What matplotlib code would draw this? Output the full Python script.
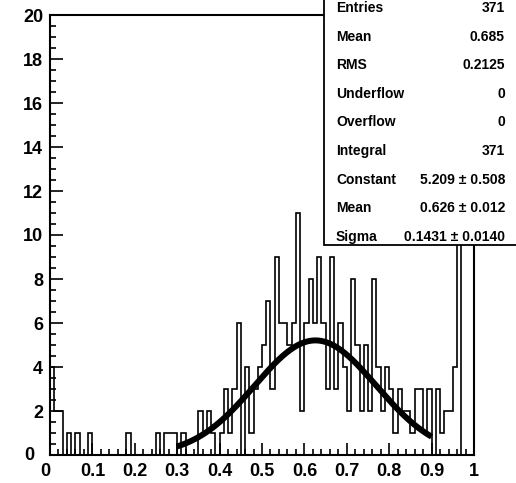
import numpy as np
import matplotlib
matplotlib.use("Agg")
import matplotlib.pyplot as plt
from matplotlib.patches import Rectangle
from matplotlib.ticker import FixedLocator, MultipleLocator
import matplotlib.transforms as mtransforms

# histogram: 100 bins on [0, 1], counts
# (bin 96 runs off the top of the frame, its height comes from Integral = 371)
bin_edges = np.linspace(0.0, 1.0, 101)
counts = [
    4, 2, 2, 0, 1, 0, 1, 0, 0, 1,
    0, 0, 0, 0, 0, 0, 0, 0, 1, 0,
    0, 0, 0, 0, 0, 1, 0, 1, 1, 1,
    0, 1, 0, 0, 0, 2, 1, 2, 1, 0,
    1, 3, 1, 3, 6, 0, 4, 1, 3, 4,
    5, 7, 3, 9, 6, 6, 5, 6, 11, 2,
    6, 8, 6, 9, 6, 3, 9, 3, 6, 4,
    2, 8, 5, 2, 5, 2, 8, 4, 2, 4,
    3, 1, 3, 2, 2, 1, 3, 3, 1, 3,
    0, 3, 1, 2, 2, 4, 126, 0, 0, 0,
]

# gaus fit parameters (from the stats box)
fit_const = 5.209
fit_mean = 0.626
fit_sigma = 0.1431
fit_lo, fit_hi = 0.3, 0.9

stat_names = ["Entries", "Mean", "RMS", "Underflow", "Overflow", "Integral",
              "Constant", "Mean", "Sigma"]
stat_values = ["371", "0.685", "0.2125", "0", "0", "371",
               "5.209 \u00b1 0.508", "0.626 \u00b1 0.012", "0.1431 \u00b1 0.0140"]

x_ticks = [0.0, 0.1, 0.2, 0.3, 0.4, 0.5, 0.6, 0.7, 0.8, 0.9, 1.0]
x_tick_labels = ["0", "0.1", "0.2", "0.3", "0.4", "0.5", "0.6", "0.7", "0.8", "0.9", "1"]
y_ticks = [0, 2, 4, 6, 8, 10, 12, 14, 16, 18, 20]
y_tick_labels = [str(v) for v in y_ticks]

plt.rcParams['font.family'] = ['Liberation Sans', 'DejaVu Sans']
plt.rcParams['font.weight'] = 'bold'

W, H = 516, 483
fig = plt.figure(figsize=(W / 100, H / 100), dpi=100)
fig.patch.set_facecolor('white')

# frame in pixels: left 50, right 474, top 15, bottom 455
ax = fig.add_axes([50 / W, 1 - 455 / H, 424 / W, 440 / H])

ax.stairs(counts, bin_edges, color='black', linewidth=1.2)

fx = np.linspace(fit_lo, fit_hi, 300)
fy = fit_const * np.exp(-0.5 * ((fx - fit_mean) / fit_sigma) ** 2)
ax.plot(fx, fy, color='black', linewidth=4.3, solid_capstyle='butt')

ax.set_xlim(0, 1)
ax.set_ylim(0, 20)
ax.xaxis.set_major_locator(FixedLocator(x_ticks))
ax.set_xticklabels(x_tick_labels)
ax.xaxis.set_minor_locator(MultipleLocator(0.02))
ax.yaxis.set_major_locator(FixedLocator(y_ticks))
ax.set_yticklabels(y_tick_labels)
ax.yaxis.set_minor_locator(MultipleLocator(0.5))

ax.tick_params(which='both', direction='in', top=False, right=False, width=1.2)
ax.tick_params(which='major', length=9)
ax.tick_params(which='minor', length=4.5)
ax.tick_params(axis='x', pad=6, labelsize=13)
ax.tick_params(axis='y', pad=5, labelsize=13)
for sp in ax.spines.values():
    sp.set_linewidth(1.5)


def px_offset(dx, dy):
    return mtransforms.ScaledTranslation(dx / 100, dy / 100, fig.dpi_scale_trans)


# ROOT nudges the two zero labels apart
xl0 = ax.xaxis.get_major_ticks()[0].label1
xl0.set_transform(xl0.get_transform() + px_offset(-5, 0))
yl0 = ax.yaxis.get_major_ticks()[0].label1
yl0.set_transform(yl0.get_transform() + px_offset(-9, 2))

# stats box, top right, running off the canvas
box = Rectangle((324 / W, 1 - 245 / H), (W + 10 - 324) / W, 245 / H + 0.05,
                transform=fig.transFigure, facecolor='white', edgecolor='black',
                linewidth=1.3, zorder=10, clip_on=False)
fig.add_artist(box)

row_y = 8.0
for name, val in zip(stat_names, stat_values):
    fig.text(336 / W, 1 - row_y / H, name, ha='left', va='center',
             fontsize=10, fontweight='bold', zorder=11)
    fig.text(505 / W, 1 - row_y / H, val, ha='right', va='center',
             fontsize=10, fontweight='bold', zorder=11)
    row_y += 28.6

fig.savefig('out.png', dpi=100)
